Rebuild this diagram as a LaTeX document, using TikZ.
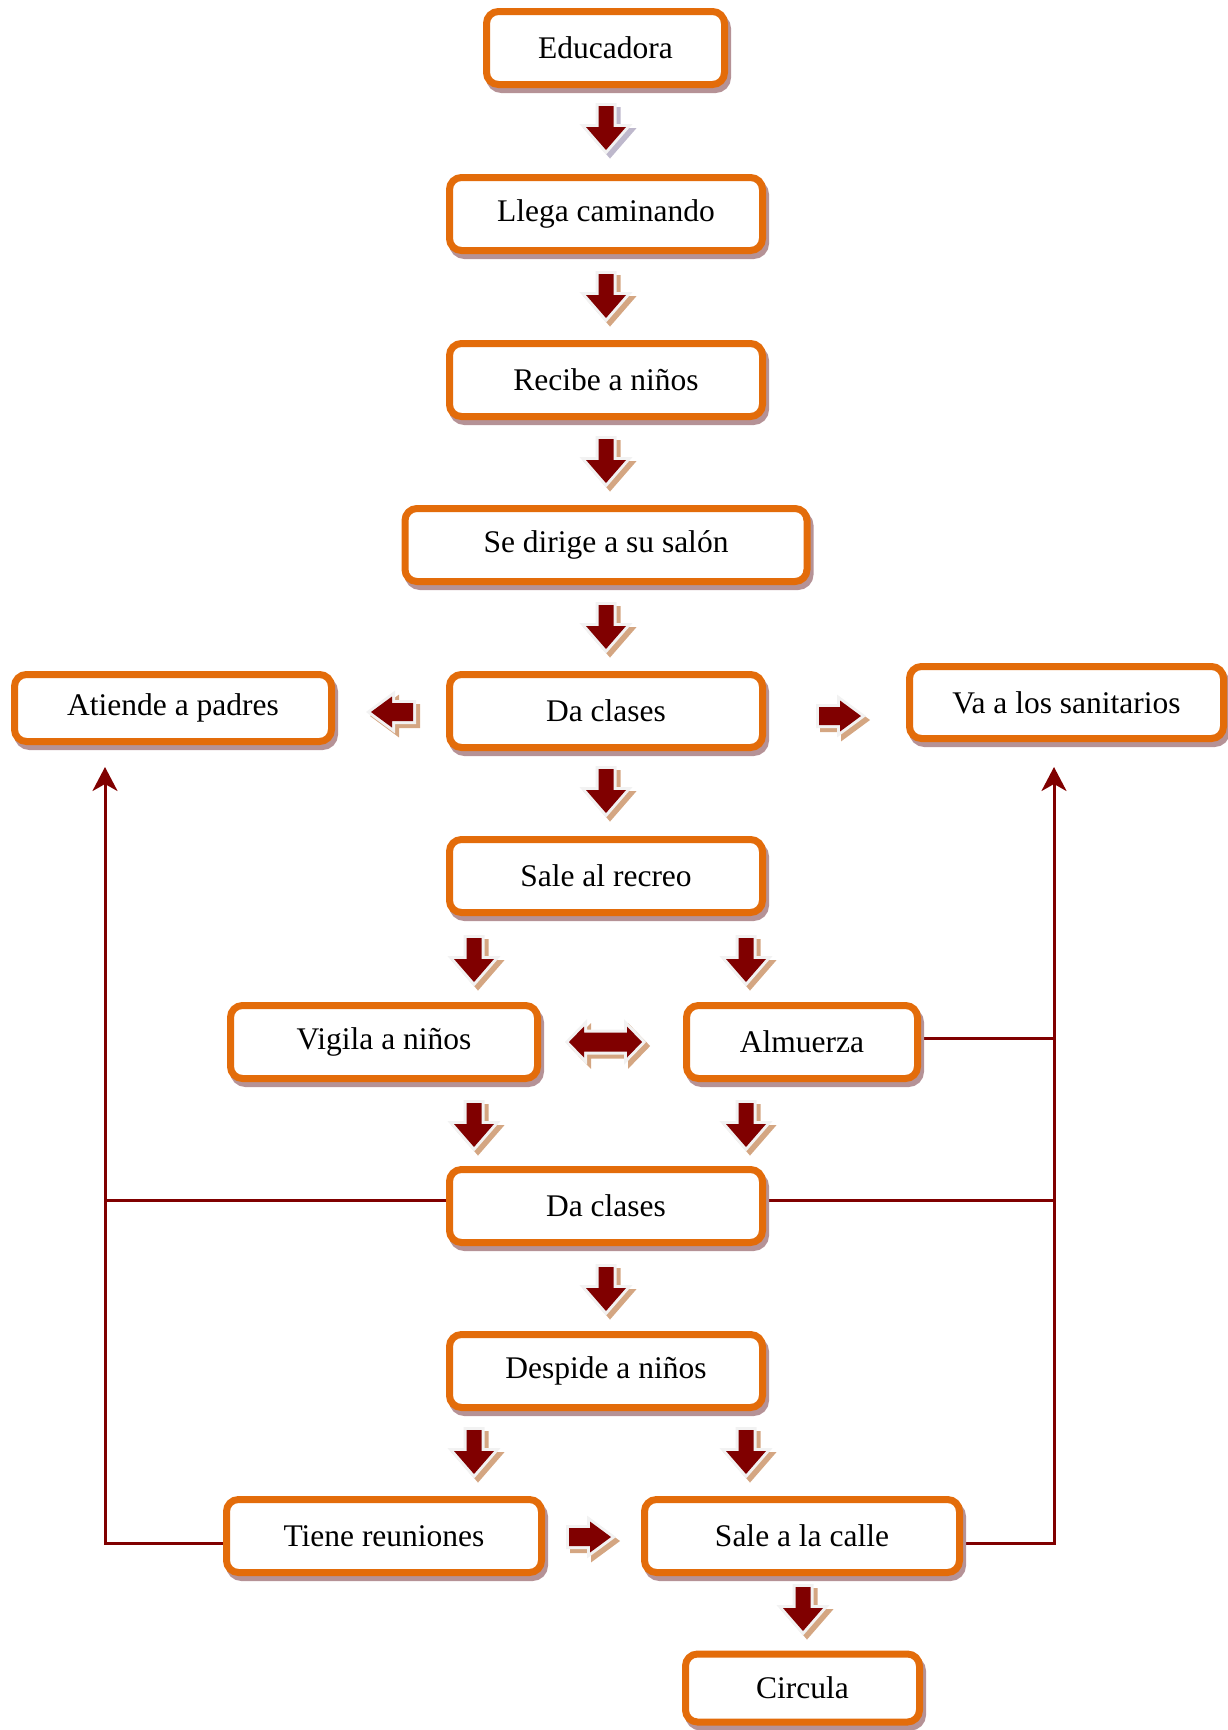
\documentclass[tikz,border=0pt]{standalone}
\usepackage{fontspec}
\setmainfont{Liberation Serif}
\usetikzlibrary{arrows.meta,shadows,backgrounds,calc}

\definecolor{boxorange}{RGB}{227,108,10}
\definecolor{boxshade}{RGB}{181,146,150}
\definecolor{arrowred}{RGB}{128,0,0}
\definecolor{arrowrim}{RGB}{242,242,242}
\definecolor{arrowtan}{RGB}{212,166,130}
\definecolor{arrowlilac}{RGB}{190,184,204}

% block arrow pointing along +x: length, half shaft, half head, head length
\newcommand\arrowpath[4]{%
  \path[pic actions] ({-#1/2},{-#2}) -- ({#1/2-#4},{-#2}) -- ({#1/2-#4},{-#3})
    -- ({#1/2},0) -- ({#1/2-#4},{#3}) -- ({#1/2-#4},{#2}) -- ({-#1/2},{#2}) -- cycle;}
% double-headed block arrow: length, half shaft, half head, head length
\newcommand\twinpath[4]{%
  \path[pic actions] ({-#1/2},0) -- ({-#1/2+#4},{#3}) -- ({-#1/2+#4},{#2})
    -- ({#1/2-#4},{#2}) -- ({#1/2-#4},{#3}) -- ({#1/2},0) -- ({#1/2-#4},{-#3})
    -- ({#1/2-#4},{-#2}) -- ({-#1/2+#4},{-#2}) -- ({-#1/2+#4},{-#3}) -- cycle;}

\tikzset{
  box/.style={rectangle, rounded corners=12pt, draw=boxorange, line width=7pt,
    fill=white, minimum height=73pt, inner sep=0pt, text=black,
    font=\fontsize{31.5}{38}\selectfont,
    drop shadow={shadow xshift=3pt, shadow yshift=-5pt, fill=boxshade,
      draw=boxshade, line width=7pt, opacity=1}},
  link/.style={draw=arrowred, line width=3pt},
  linktip/.style={-{Stealth[length=24pt,width=25pt,inset=7pt]}},
  pics/vdown/.style={code={\arrowpath{44}{7.5}{20}{23}}},
  pics/hside/.style={code={\arrowpath{42}{9}{15.5}{21}}},
  pics/twin/.style={code={\twinpath{73}{9.5}{15.5}{15}}},
}

% position, angle, shadow colour, pic name: shadow, pale rim, red body
\newcommand\flowarrow[4]{%
  \pic[fill=#3, draw=#3, line width=6pt, xshift=4pt, yshift=-4pt, rotate=#2] at #1 {#4};
  \pic[draw=arrowrim, line width=6pt, rotate=#2] at #1 {#4};
  \pic[fill=arrowred, rotate=#2] at #1 {#4};}

\begin{document}
\begin{tikzpicture}[x=1pt, y=-1pt]
\useasboundingbox (0,0) rectangle (1228,1730);

% process boxes
\node[box, minimum width=238pt] (edu) at (605.5,48) {Educadora};
\node[box, minimum width=313pt] (llega) at (606,214) {Llega caminando};
\node[box, minimum width=313pt] (recibe) at (606,380) {Recibe a niños};
\node[box, minimum width=402pt] (dirige) at (606,545) {Se dirige a su salón};
\node[box, minimum width=313pt] (dc1) at (606,711) {Da clases};
\node[box, minimum width=317pt, minimum height=67pt] (padres) at (173,708) {Atiende a padres};
\node[box, minimum width=314pt, minimum height=72pt] (sanit) at (1066.5,702.5) {Va a los sanitarios};
\node[box, minimum width=313pt] (recreo) at (606,876) {Sale al recreo};
\node[box, minimum width=307pt] (vigila) at (384,1042) {Vigila a niños};
\node[box, minimum width=231pt] (almuerza) at (802,1042) {Almuerza};
\node[box, minimum width=313pt] (dc2) at (606,1206) {Da clases};
\node[box, minimum width=313pt] (despide) at (606,1371) {Despide a niños};
\node[box, minimum width=315pt] (reuniones) at (384,1536) {Tiene reuniones};
\node[box, minimum width=315pt] (calle) at (802,1536) {Sale a la calle};
\node[box, minimum width=234pt, minimum height=68pt] (circula) at (802.5,1688) {Circula};

% block arrows between the steps
\flowarrow{(606,128)}{-90}{arrowlilac}{vdown}
\flowarrow{(606,296)}{-90}{arrowtan}{vdown}
\flowarrow{(606,461)}{-90}{arrowtan}{vdown}
\flowarrow{(606,627)}{-90}{arrowtan}{vdown}
\flowarrow{(606,791)}{-90}{arrowtan}{vdown}
\flowarrow{(474,960)}{-90}{arrowtan}{vdown}
\flowarrow{(746,960)}{-90}{arrowtan}{vdown}
\flowarrow{(474,1125)}{-90}{arrowtan}{vdown}
\flowarrow{(746,1125)}{-90}{arrowtan}{vdown}
\flowarrow{(606,1289)}{-90}{arrowtan}{vdown}
\flowarrow{(474,1452)}{-90}{arrowtan}{vdown}
\flowarrow{(746,1452)}{-90}{arrowtan}{vdown}
\flowarrow{(803,1609)}{-90}{arrowtan}{vdown}
\flowarrow{(392,712)}{180}{arrowtan}{hside}
\flowarrow{(840,716)}{0}{arrowtan}{hside}
\flowarrow{(590,1537)}{0}{arrowtan}{hside}
\flowarrow{(605.5,1042)}{0}{arrowtan}{twin}

% feedback lines on both sides
\coordinate (ltop) at (105,767);
\coordinate (lmid) at (105,1200);
\coordinate (lbot) at (105,1543);
\coordinate (rtop) at (1054,767);
\coordinate (rlunch) at (1054,1038);
\coordinate (rmid) at (1054,1200);
\coordinate (rbot) at (1054,1543);
\begin{scope}[on background layer]
  \draw[link, linktip] (reuniones.west |- lbot) -- (lbot) -- (ltop);
  \draw[link] (dc2.west |- lmid) -- (lmid);
  \draw[link, linktip] (calle.east |- rbot) -- (rbot) -- (rtop);
  \draw[link] (almuerza.east |- rlunch) -- (rlunch);
  \draw[link] (dc2.east |- rmid) -- (rmid);
\end{scope}
\end{tikzpicture}
\end{document}
